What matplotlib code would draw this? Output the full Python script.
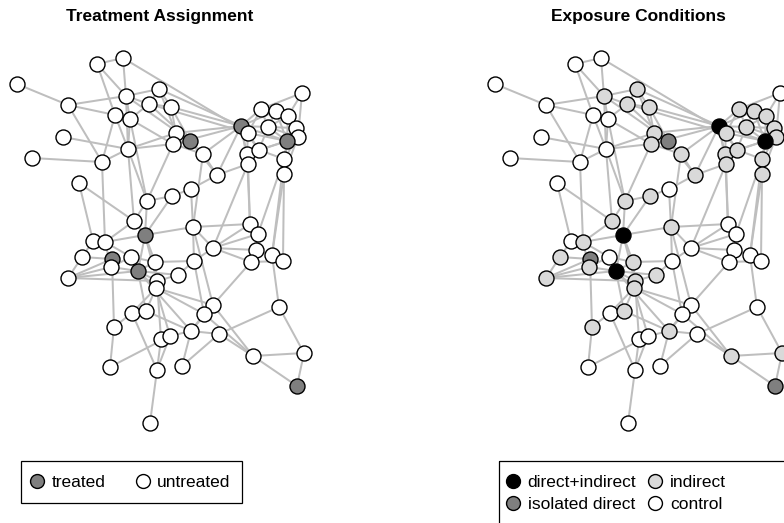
import matplotlib
matplotlib.use("Agg")
import matplotlib.pyplot as plt
from matplotlib.lines import Line2D
from matplotlib.patches import Rectangle

plt.rcParams['font.family'] = ['Liberation Sans', 'DejaVu Sans']

# Node layout (shared by both panels)
node_x = [17, 97, 123, 68, 126, 149, 159, 115, 130, 63, 128, 32, 102, 171, 302, 261, 276, 288,
          241, 268, 296, 298, 248, 287, 176, 173, 190, 203, 247, 259, 284, 248, 284, 217, 191,
          172, 79, 147, 134, 193, 145, 93, 105, 82, 112, 111, 131, 155, 138, 194, 178, 68, 157,
          156, 250, 258, 213, 256, 251, 272, 283, 213, 204, 279, 132, 146, 114, 161, 170, 191,
          219, 253, 304, 297, 110, 157, 182, 150]
node_y = [84, 64, 58, 105, 96, 104, 89, 115, 119, 137, 149, 158, 162, 107, 93, 109, 111, 116,
          126, 127, 128, 137, 133, 141, 133, 144, 141, 154, 154, 150, 159, 164, 174, 175, 189,
          196, 183, 201, 221, 227, 235, 241, 242, 257, 259, 267, 257, 262, 271, 261, 275, 278, 281,
          288, 224, 234, 248, 250, 262, 255, 261, 305, 314, 307, 313, 311, 327, 339, 336, 331,
          334, 356, 353, 386, 367, 370, 366, 423]

# Treated nodes (1-based ids)
treated = [19, 24, 27, 41, 45, 49, 74]

# Edges (1-based node ids)
edges = [
    (1, 4), (2, 3), (2, 5), (2, 8), (3, 5), (3, 23), (4, 5), (4, 8), (4, 13), (5, 7), (5, 6),
    (5, 9), (5, 27), (5, 11), (6, 7), (6, 14), (6, 27), (6, 9), (6, 23), (7, 14), (7, 19), (7, 25),
    (8, 9), (8, 13), (8, 11), (9, 11), (9, 26), (9, 38), (10, 11), (12, 13), (11, 13), (11, 25),
    (11, 26), (11, 38), (11, 39), (13, 43), (14, 19), (14, 25), (14, 27),
    (15, 16), (15, 18), (15, 22), (16, 17), (16, 19), (16, 20), (16, 23), (17, 18), (17, 20),
    (17, 24), (17, 19), (18, 21), (18, 24), (18, 20), (19, 20), (19, 23), (19, 24), (19, 29),
    (19, 30), (19, 25), (19, 26), (19, 28), (19, 34), (19, 32), (20, 21), (20, 24), (20, 30),
    (20, 22), (21, 22), (21, 24), (22, 24), (22, 31), (22, 33), (23, 29), (23, 24), (23, 30),
    (24, 30), (24, 31), (24, 33), (24, 29), (29, 32), (29, 30), (29, 55), (30, 31), (31, 56),
    (31, 60), (32, 55), (32, 34), (32, 57), (33, 61), (33, 60),
    (25, 26), (25, 27), (26, 27), (26, 28), (27, 28), (27, 34), (28, 34), (28, 40),
    (34, 35), (35, 36), (35, 40), (36, 38), (36, 41), (37, 39), (37, 42), (38, 39), (38, 41),
    (38, 26), (39, 41), (39, 43), (40, 41), (40, 55), (40, 57), (40, 50), (40, 62),
    (41, 43), (41, 48), (41, 49), (41, 53), (42, 43), (42, 44), (43, 46), (44, 45), (44, 52),
    (45, 46), (45, 52), (45, 67), (46, 49), (46, 52), (47, 48), (47, 46), (47, 43),
    (48, 49), (48, 50), (48, 53), (49, 51), (49, 53), (49, 54), (49, 66), (49, 70), (49, 52),
    (50, 51), (50, 57), (50, 63), (51, 53), (52, 53), (53, 54), (53, 68),
    (54, 62), (54, 63), (54, 65), (54, 66), (54, 69), (55, 56), (55, 57), (56, 58), (56, 57),
    (57, 58), (57, 59), (58, 59), (58, 60), (59, 62), (59, 61), (60, 61), (60, 64),
    (62, 63), (62, 70), (62, 72), (63, 70), (63, 72), (64, 71), (64, 73), (65, 66), (65, 67),
    (65, 76), (66, 70), (67, 75), (68, 69), (68, 76), (69, 70), (69, 75), (69, 76), (70, 71),
    (70, 77), (71, 72), (72, 73), (72, 74), (73, 74), (76, 78), (77, 71),
]

treat_labels = ["treated", "untreated"]
exposure_labels = ["direct+indirect", "isolated direct", "indirect", "control"]

edge_color = "#BEBEBE"
treat_colors = {"treated": "#7F7F7F", "untreated": "white"}
exp_colors = {"direct+indirect": "black", "isolated direct": "#7F7F7F",
              "indirect": "#D9D9D9", "control": "white"}

n = len(node_x)
is_treated = [(i + 1) in treated for i in range(n)]
nbrs = [set() for _ in range(n)]
for a, b in edges:
    nbrs[a - 1].add(b - 1)
    nbrs[b - 1].add(a - 1)
exposure = []
for i in range(n):
    ind = any(is_treated[j] for j in nbrs[i])
    if is_treated[i]:
        exposure.append("direct+indirect" if ind else "isolated direct")
    else:
        exposure.append("indirect" if ind else "control")
treat_status = ["treated" if t else "untreated" for t in is_treated]

W, H = 784, 523
fig = plt.figure(figsize=(W / 100, H / 100), dpi=100)
panel_w = 320
axL = fig.add_axes([0, 0, panel_w / W, 1])
axR = fig.add_axes([478 / W, 0, panel_w / W, 1])

MS = 10.8

def draw(ax, fills, title):
    ax.set_xlim(0, panel_w)
    ax.set_ylim(H, 0)
    ax.axis("off")
    for a, b in edges:
        ax.plot([node_x[a - 1], node_x[b - 1]], [node_y[a - 1], node_y[b - 1]],
                color=edge_color, lw=1.45, zorder=1, solid_capstyle="butt")
    for i in range(n):
        ax.plot(node_x[i], node_y[i], marker="o", ms=MS, mfc=fills[i], mec="black",
                mew=1.0, ls="none", zorder=2)
    ax.text(160, 16.5, title, ha="center", va="center", fontsize=12.5, fontweight="bold")

draw(axL, [treat_colors[s] for s in treat_status], "Treatment Assignment")
draw(axR, [exp_colors[s] for s in exposure], "Exposure Conditions")

def handle(c):
    return Line2D([], [], marker="o", ls="none", ms=10, mfc=c, mec="black", mew=1.0)

# Left legend: frame box + entries
axL.add_patch(Rectangle((20.7, 460.7), 242 - 20.7, 503 - 460.7, fill=False,
                        edgecolor="black", lw=0.9, zorder=3))
legL = axL.legend([handle(treat_colors[l]) for l in treat_labels], treat_labels,
                  loc="upper left", bbox_to_anchor=(29.7, 474.5), bbox_transform=axL.transData,
                  ncol=2, fontsize=12.5, frameon=False, borderaxespad=0,
                  borderpad=0, handlelength=0.8, handletextpad=0.45, columnspacing=1.75)

# Right legend: frame box (extends past the figure edge) + entries
axR.add_patch(Rectangle((21, 460.7), 330, 70, fill=False, edgecolor="black", lw=0.9,
                        zorder=3, clip_on=False))
legR = axR.legend([handle(exp_colors[l]) for l in exposure_labels], exposure_labels,
                  loc="upper left", bbox_to_anchor=(28, 474.5), bbox_transform=axR.transData,
                  ncol=2, fontsize=12.5, frameon=False, borderaxespad=0,
                  borderpad=0, handlelength=0.8, handletextpad=0.45, columnspacing=0.7,
                  labelspacing=0.43)

fig.savefig("out.png", dpi=100)
